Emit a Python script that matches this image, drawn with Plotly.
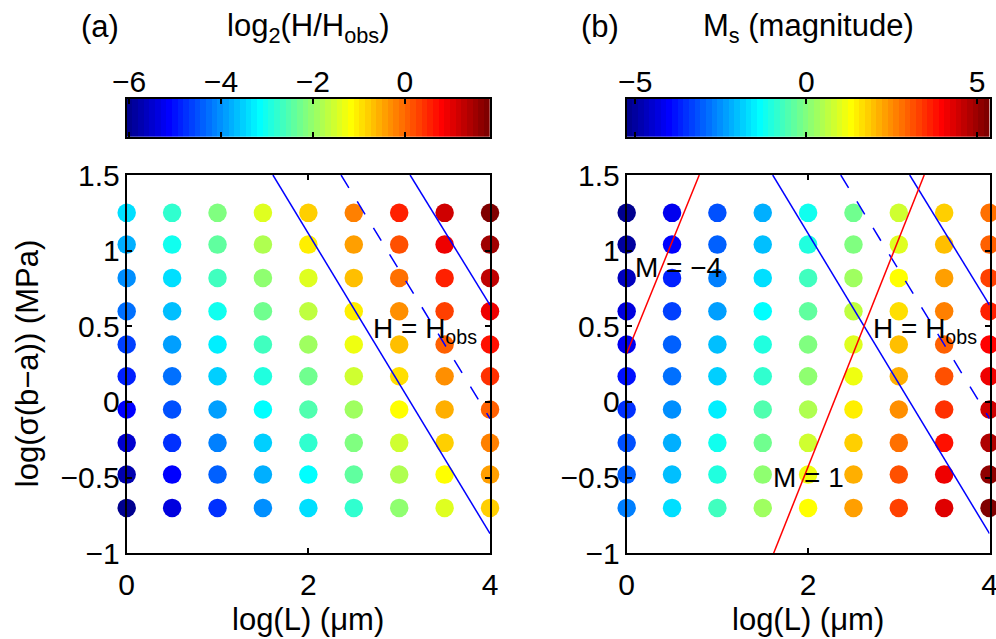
import numpy as np
import plotly.graph_objects as go

# Grid of model runs: log10 of patch length L (um) and of sigma*(b-a) (MPa)
log_L = [0.0, 0.5, 1.0, 1.5, 2.0, 2.5, 3.0, 3.5, 4.0]
log_sigma = [-0.70, -0.48, -0.27, -0.05, 0.17, 0.38, 0.60, 0.82, 1.04, 1.25]

# (a) log2(H/Hobs): one row per log_sigma value, one column per log_L value
log2_H_ratio = [
    [-6.05, -5.39, -4.73, -4.07, -3.41, -2.75, -2.09, -1.43, -0.77],
    [-5.75, -5.09, -4.43, -3.77, -3.11, -2.45, -1.79, -1.13, -0.47],
    [-5.47, -4.81, -4.15, -3.49, -2.83, -2.17, -1.51, -0.85, -0.19],
    [-5.18, -4.52, -3.86, -3.20, -2.54, -1.88, -1.22, -0.56, 0.10],
    [-4.88, -4.22, -3.56, -2.90, -2.24, -1.58, -0.92, -0.26, 0.40],
    [-4.60, -3.94, -3.28, -2.62, -1.96, -1.30, -0.64, 0.02, 0.68],
    [-4.31, -3.65, -2.99, -2.33, -1.67, -1.01, -0.35, 0.31, 0.97],
    [-4.01, -3.35, -2.69, -2.03, -1.37, -0.71, -0.05, 0.61, 1.27],
    [-3.72, -3.06, -2.40, -1.74, -1.08, -0.42, 0.24, 0.90, 1.56],
    [-3.44, -2.78, -2.12, -1.46, -0.80, -0.14, 0.52, 1.18, 1.85],
]

# (b) Ms magnitude, same layout
magnitude = [
    [-2.65, -1.65, -0.65, 0.36, 1.36, 2.36, 3.36, 4.36, 5.36],
    [-2.94, -1.94, -0.94, 0.06, 1.06, 2.06, 3.06, 4.06, 5.06],
    [-3.22, -2.22, -1.22, -0.22, 0.78, 1.78, 2.78, 3.78, 4.78],
    [-3.51, -2.51, -1.51, -0.51, 0.49, 1.49, 2.49, 3.49, 4.49],
    [-3.81, -2.81, -1.81, -0.81, 0.19, 1.19, 2.19, 3.19, 4.19],
    [-4.09, -3.09, -2.09, -1.09, -0.09, 0.91, 1.91, 2.91, 3.91],
    [-4.38, -3.38, -2.38, -1.38, -0.38, 0.62, 1.62, 2.62, 3.62],
    [-4.68, -3.68, -2.68, -1.68, -0.68, 0.33, 1.33, 2.33, 3.33],
    [-4.97, -3.97, -2.97, -1.97, -0.97, 0.03, 1.03, 2.03, 3.03],
    [-5.25, -4.25, -3.25, -2.25, -1.25, -0.25, 0.75, 1.75, 2.75],
]

# H = Hobs (dashed) with factor-of-two bounds (solid)
h_low_x, h_low_y = [1.61, 4.0], [1.5, -0.87]
h_obs_x, h_obs_y = [2.36, 4.0], [1.5, -0.11]
h_high_x, h_high_y = [3.12, 4.0], [1.5, 0.64]

# magnitude contours
m_neg4_x, m_neg4_y = [0.0, 0.80], [0.32, 1.5]
m_pos1_x, m_pos1_y = [1.62, 3.28], [-1.0, 1.5]

x_ticks = [0, 2, 4]
y_ticks = [-1, -0.5, 0, 0.5, 1, 1.5]
cbar_a_ticks = [-6, -4, -2, 0]
cbar_b_ticks = [-5, 0, 5]

FONT = "Liberation Sans, Arial, Helvetica, sans-serif"
TICK_SIZE = 30
LABEL_SIZE = 31
TEXT_SIZE = 28


def matlab_jet(m=64):
    n = int(np.ceil(m / 4))
    u = np.concatenate([np.arange(1, n + 1) / n, np.ones(n - 1), np.arange(n, 0, -1) / n])
    g = int(np.ceil(n / 2)) - (1 if m % 4 == 1 else 0) + np.arange(1, len(u) + 1)
    r = g + n
    b = g - n
    cmap = np.zeros((m, 3))
    for col, idx in enumerate((r, g, b)):
        for k, v in zip(idx, u):
            if 1 <= k <= m:
                cmap[k - 1, col] = v
    return cmap


JET = matlab_jet(64)
colorscale = []
for i, c in enumerate(JET):
    rgb = "rgb({},{},{})".format(*[int(round(v * 255)) for v in c])
    colorscale.append([i / len(JET), rgb])
    colorscale.append([(i + 1) / len(JET), rgb])

X, Y = np.meshgrid(log_L, log_sigma)

fig = go.Figure()


def add_panel(values, xa, ya, cxa, cya):
    vals = np.asarray(values, dtype=float)
    vmin, vmax = vals.min(), vals.max()
    fig.add_trace(go.Scatter(
        x=X.ravel(), y=Y.ravel(), mode="markers",
        marker=dict(color=vals.ravel(), colorscale=colorscale, cmin=vmin, cmax=vmax,
                    size=18.5, line=dict(width=0)),
        cliponaxis=False, showlegend=False, hoverinfo="skip",
        xaxis=xa, yaxis=ya,
    ))
    edges = np.linspace(vmin, vmax, len(JET) + 1)
    centers = (edges[:-1] + edges[1:]) / 2
    fig.add_trace(go.Heatmap(
        x=centers, y=[0], z=[centers], colorscale=colorscale, zmin=vmin, zmax=vmax,
        showscale=False, hoverinfo="skip", xaxis=cxa, yaxis=cya,
    ))
    return vmin, vmax


def add_line(xs, ys, color, xa, ya, dash="solid"):
    fig.add_trace(go.Scatter(
        x=xs, y=ys, mode="lines", line=dict(color=color, width=1.5, dash=dash),
        showlegend=False, hoverinfo="skip", xaxis=xa, yaxis=ya,
    ))


a_min, a_max = add_panel(log2_H_ratio, "x", "y", "x3", "y3")
b_min, b_max = add_panel(magnitude, "x2", "y2", "x4", "y4")

for xa, ya in (("x", "y"), ("x2", "y2")):
    add_line(h_low_x, h_low_y, "#0000ff", xa, ya)
    add_line(h_obs_x, h_obs_y, "#0000ff", xa, ya, dash="15px,16px")
    add_line(h_high_x, h_high_y, "#0000ff", xa, ya)

add_line(m_neg4_x, m_neg4_y, "#ff0000", "x2", "y2")
add_line(m_pos1_x, m_pos1_y, "#ff0000", "x2", "y2")

axis_style = dict(
    showline=True, linecolor="black", linewidth=2, mirror="ticks",
    ticks="inside", ticklen=5, tickwidth=1.5, tickcolor="black",
    showgrid=False, zeroline=False, automargin=False, ticklabeloverflow="allow",
    tickfont=dict(family=FONT, size=TICK_SIZE, color="black"),
)
bar_y_style = dict(
    range=[-0.5, 0.5], showticklabels=False, ticks="", showline=True,
    linecolor="black", linewidth=2, mirror=True, showgrid=False,
    zeroline=False, automargin=False,
)

PANEL_Y = [0.1341, 0.7261]
CBAR_Y = [0.7856, 0.8455]
A_X = [0.1272, 0.4920]
B_X = [0.6292, 0.9935]

fig.update_layout(
    width=996, height=639,
    margin=dict(l=0, r=0, t=0, b=0, autoexpand=False),
    paper_bgcolor="white", plot_bgcolor="white",
    font=dict(family=FONT, color="black"),
    xaxis=dict(domain=A_X, range=[0, 4], tickvals=x_ticks, anchor="y",
               ticklabelstandoff=4, **axis_style),
    yaxis=dict(domain=PANEL_Y, range=[-1, 1.5], tickvals=y_ticks, anchor="x",
               ticklabelstandoff=-1, **axis_style),
    xaxis2=dict(domain=B_X, range=[0, 4], tickvals=x_ticks, anchor="y2",
                ticklabelstandoff=4, **axis_style),
    yaxis2=dict(domain=PANEL_Y, range=[-1, 1.5], tickvals=y_ticks, anchor="x2",
                ticklabelstandoff=-1, **axis_style),
    xaxis3=dict(domain=A_X, range=[a_min, a_max], tickvals=cbar_a_ticks, side="top",
                anchor="y3", ticklabelstandoff=-7, **axis_style),
    yaxis3=dict(domain=CBAR_Y, anchor="x3", **bar_y_style),
    xaxis4=dict(domain=B_X, range=[b_min, b_max], tickvals=cbar_b_ticks, side="top",
                anchor="y4", ticklabelstandoff=-7, **axis_style),
    yaxis4=dict(domain=CBAR_Y, anchor="x4", **bar_y_style),
)

label_font = dict(family=FONT, size=LABEL_SIZE, color="black")
text_font = dict(family=FONT, size=TEXT_SIZE, color="black")

annotations = [
    dict(text="(a)", x=100 / 996, y=1 - 26 / 639, xref="paper", yref="paper",
         xanchor="center", yanchor="middle", showarrow=False, font=label_font),
    dict(text="(b)", x=600 / 996, y=1 - 26 / 639, xref="paper", yref="paper",
         xanchor="center", yanchor="middle", showarrow=False, font=label_font),
    dict(text="log<sub>2</sub>(H/H<sub>obs</sub>)", x=sum(A_X) / 2, y=1 - 28 / 639,
         xref="paper", yref="paper", xanchor="center", yanchor="middle",
         showarrow=False, font=label_font),
    dict(text="M<sub>s</sub> (magnitude)", x=sum(B_X) / 2, y=1 - 28 / 639,
         xref="paper", yref="paper", xanchor="center", yanchor="middle",
         showarrow=False, font=label_font),
    dict(text="log(L) (μm)", x=sum(A_X) / 2, y=1 - 619 / 639, xref="paper", yref="paper",
         xanchor="center", yanchor="middle", showarrow=False, font=label_font),
    dict(text="log(L) (μm)", x=sum(B_X) / 2, y=1 - 619 / 639, xref="paper", yref="paper",
         xanchor="center", yanchor="middle", showarrow=False, font=label_font),
    dict(text="log(σ(b−a)) (MPa)", x=27 / 996, y=sum(PANEL_Y) / 2, xref="paper",
         yref="paper", xanchor="center", yanchor="middle", textangle=-90,
         showarrow=False, font=label_font),
    dict(text="H = H<sub>obs</sub>", x=2.69, y=0.47, xref="x", yref="y",
         xanchor="left", yanchor="middle", showarrow=False, font=text_font),
    dict(text="H = H<sub>obs</sub>", x=2.69, y=0.47, xref="x2", yref="y2",
         xanchor="left", yanchor="middle", showarrow=False, font=text_font),
    dict(text="M = −4", x=0.07, y=0.89, xref="x2", yref="y2",
         xanchor="left", yanchor="middle", showarrow=False, font=text_font),
    dict(text="M = 1", x=1.59, y=-0.50, xref="x2", yref="y2",
         xanchor="left", yanchor="middle", showarrow=False, font=text_font),
]
fig.update_layout(annotations=annotations)

fig.write_html("out.html")
